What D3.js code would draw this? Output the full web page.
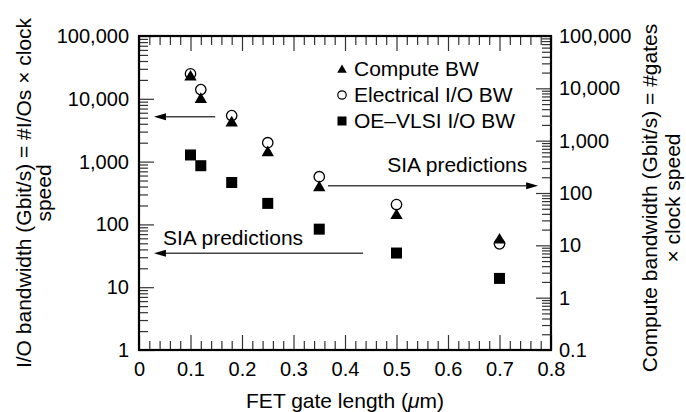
<!DOCTYPE html>
<html>
<head>
<meta charset="utf-8">
<script src="https://cdn.jsdelivr.net/npm/d3@7"></script>
<style>
  html, body { margin: 0; padding: 0; background: #fff; }
  svg { display: block; font-family: "Liberation Sans", Arial, Helvetica, sans-serif; }
</style>
</head>
<body>
<svg id="chart" width="686" height="412"></svg>
<script>
// ---- data ----
const gateLength = [0.1, 0.12, 0.18, 0.25, 0.35, 0.5, 0.7];          // µm
const computeBW = [17200, 6400, 2275, 615, 132, 38.8, 13.2];          // right axis
const electricalBW = [25000, 14000, 5400, 2000, 575, 207, 49];        // left axis
const oeVlsiBW = [1275, 860, 465, 216, 84, 35, 13.8];                 // left axis

const xTickLabels = ["0", "0.1", "0.2", "0.3", "0.4", "0.5", "0.6", "0.7", "0.8"];
const xTickValues = [0, 0.1, 0.2, 0.3, 0.4, 0.5, 0.6, 0.7, 0.8];
const leftTickValues = [1, 10, 100, 1000, 10000, 100000];
const leftTickLabels = ["1", "10", "100", "1,000", "10,000", "100,000"];
const rightTickValues = [0.1, 1, 10, 100, 1000, 10000, 100000];
const rightTickLabels = ["0.1", "1", "10", "100", "1,000", "10,000", "100,000"];

const legendLabels = ["Compute BW", "Electrical I/O BW", "OE\u2013VLSI I/O BW"];

// annotation arrows in data coordinates (x from, x to, left-axis value)
const arrows = [
  { from: 0.148, to: 0.029, value: 5200 },
  { from: 0.367, to: 0.775, value: 413 },
  { from: 0.435, to: 0.029, value: 34.7 }
];
const notes = [
  { text: "SIA predictions", x: 0.754, value: 683, anchor: "end" },
  { text: "SIA predictions", x: 0.0466, value: 47, anchor: "start" }
];

// ---- layout ----
const L = 139, R = 551, T = 36, B = 350;
const svg = d3.select("#chart");
const x = d3.scaleLinear().domain([0, 0.8]).range([L, R]);
const yL = d3.scaleLog().domain([1, 100000]).range([B, T]);
const yR = d3.scaleLog().domain([0.1, 100000]).range([B, T]);

function minorLog(lo, hi) {
  const out = [];
  for (let d = lo; d < hi; d *= 10) for (let k = 2; k <= 9; k++) out.push(d * k);
  return out;
}
const xMinor = d3.range(0, 41).map(i => i * 0.02).filter(v => Math.abs(v * 10 - Math.round(v * 10)) > 1e-6);

const tickColor = "#333";
const MAJ = 15, MIN = 9;

function styleAxis(g) {
  g.select(".domain").remove();
  g.selectAll(".tick line").attr("stroke", tickColor).attr("stroke-width", 1.2);
  g.selectAll("text").attr("fill", "#000").style("font-size", "20px")
    .style("font-family", '"Liberation Sans", Arial, Helvetica, sans-serif');
}

// left axis
svg.append("g").attr("transform", `translate(${L},0)`)
  .call(d3.axisLeft(yL).tickValues(leftTickValues).tickSize(-MAJ).tickPadding(10)
    .tickFormat((d, i) => leftTickLabels[i]))
  .call(styleAxis);
svg.append("g").attr("transform", `translate(${L},0)`)
  .call(d3.axisLeft(yL).tickValues(minorLog(1, 100000)).tickSize(-MIN).tickFormat(""))
  .call(styleAxis);

// right axis
svg.append("g").attr("transform", `translate(${R},0)`)
  .call(d3.axisRight(yR).tickValues(rightTickValues).tickSize(-MAJ).tickPadding(8)
    .tickFormat((d, i) => rightTickLabels[i]))
  .call(styleAxis);
svg.append("g").attr("transform", `translate(${R},0)`)
  .call(d3.axisRight(yR).tickValues(minorLog(0.1, 100000)).tickSize(-MIN).tickFormat(""))
  .call(styleAxis);

// bottom axis
svg.append("g").attr("transform", `translate(0,${B})`)
  .call(d3.axisBottom(x).tickValues(xTickValues).tickSize(-MAJ).tickPadding(12)
    .tickFormat((d, i) => xTickLabels[i]))
  .call(styleAxis);
svg.append("g").attr("transform", `translate(0,${B})`)
  .call(d3.axisBottom(x).tickValues(xMinor).tickSize(-MIN).tickFormat(""))
  .call(styleAxis);

// top axis
svg.append("g").attr("transform", `translate(0,${T})`)
  .call(d3.axisTop(x).tickValues(xTickValues).tickSize(-MAJ).tickFormat(""))
  .call(styleAxis);
svg.append("g").attr("transform", `translate(0,${T})`)
  .call(d3.axisTop(x).tickValues(xMinor).tickSize(-MIN).tickFormat(""))
  .call(styleAxis);

// frame
svg.append("rect").attr("x", L).attr("y", T).attr("width", R - L).attr("height", B - T)
  .attr("fill", "none").attr("stroke", "#000").attr("stroke-width", 2.2);

// ---- arrows ----
const arrowLen = 12, arrowHalf = 3.5;
arrows.forEach(a => {
  const y = yL(a.value), x1 = x(a.from), x2 = x(a.to);
  const dir = Math.sign(x2 - x1);
  svg.append("line").attr("x1", x1).attr("x2", x2 - dir * arrowLen).attr("y1", y).attr("y2", y)
    .attr("stroke", "#444").attr("stroke-width", 1.5);
  svg.append("path")
    .attr("d", `M${x2},${y} L${x2 - dir * arrowLen},${y - arrowHalf} L${x2 - dir * arrowLen},${y + arrowHalf} Z`)
    .attr("fill", "#000");
});
notes.forEach(n => {
  svg.append("text").attr("x", x(n.x)).attr("y", yL(n.value)).attr("text-anchor", n.anchor)
    .style("font-size", "21px").text(n.text);
});

// ---- markers ----
const pts = gateLength.map((g, i) => ({ g, c: computeBW[i], e: electricalBW[i], o: oeVlsiBW[i] }));
const tri = d3.symbol().type(d3.symbolTriangle).size(66);

svg.append("g").selectAll("rect").data(pts).join("rect")
  .attr("x", d => x(d.g) - 5.5).attr("y", d => yL(d.o) - 5.5)
  .attr("width", 11).attr("height", 11).attr("fill", "#000");

svg.append("g").selectAll("circle").data(pts).join("circle")
  .attr("cx", d => x(d.g)).attr("cy", d => yL(d.e)).attr("r", 5.2)
  .attr("fill", "#fff").attr("stroke", "#000").attr("stroke-width", 1.3);

svg.append("g").selectAll("path").data(pts).join("path")
  .attr("d", tri)
  .attr("transform", d => `translate(${x(d.g)},${yR(d.c) + 1})`)
  .attr("fill", "#000");

// ---- legend ----
const legX = 342, legTextX = 354, legY = [69, 95, 121];
const lg = svg.append("g");
lg.append("path").attr("d", d3.symbol().type(d3.symbolTriangle).size(40)())
  .attr("transform", `translate(${legX},${legY[0] + 1})`).attr("fill", "#000");
lg.append("circle").attr("cx", legX).attr("cy", legY[1]).attr("r", 4.2)
  .attr("fill", "#fff").attr("stroke", "#000").attr("stroke-width", 1.2);
lg.append("rect").attr("x", legX - 4.5).attr("y", legY[2] - 4.5).attr("width", 9).attr("height", 9).attr("fill", "#000");
legendLabels.forEach((t, i) => {
  lg.append("text").attr("x", legTextX).attr("y", legY[i]).attr("dy", "0.35em")
    .style("font-size", "21px").text(t);
});

// ---- axis titles ----
const cy = (T + B) / 2;
svg.append("text").attr("transform", `translate(31,${cy}) rotate(-90)`).attr("text-anchor", "middle")
  .style("font-size", "21px").text("I/O bandwidth (Gbit/s) = #I/Os \u00d7 clock");
svg.append("text").attr("transform", `translate(51,${cy}) rotate(-90)`).attr("text-anchor", "middle")
  .style("font-size", "21px").text("speed");
svg.append("text").attr("transform", `translate(657,${cy + 5}) rotate(-90)`).attr("text-anchor", "middle")
  .style("font-size", "21px").text("Compute bandwidth (Gbit/s) = #gates");
svg.append("text").attr("transform", `translate(680,${cy + 5}) rotate(-90)`).attr("text-anchor", "middle")
  .style("font-size", "21px").text("\u00d7 clock speed");

const xt = svg.append("text").attr("x", (L + R) / 2).attr("y", 408).attr("text-anchor", "middle")
  .style("font-size", "21px");
xt.append("tspan").text("FET gate length (");
xt.append("tspan").style("font-style", "italic").text("\u03bc");
xt.append("tspan").text("m)");
</script>
</body>
</html>
